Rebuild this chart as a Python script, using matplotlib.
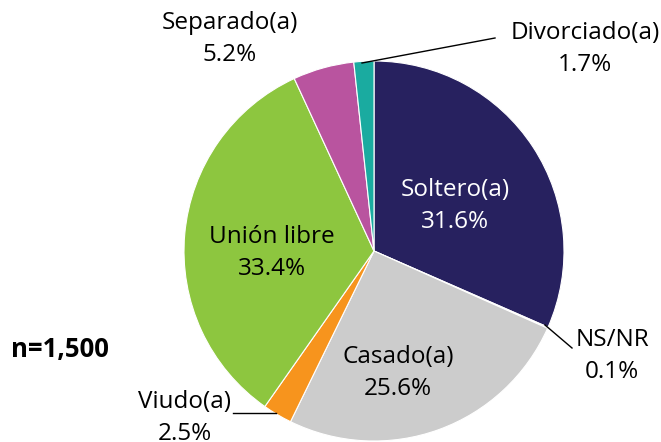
import matplotlib.pyplot as plt

labels = ['Soltero(a)', 'NS/NR', 'Casado(a)', 'Viudo(a)', 'Unión libre', 'Separado(a)', 'Divorciado(a)']
values = [31.6, 0.1, 25.6, 2.5, 33.4, 5.2, 1.7]
colors = ['#27215f', '#7f7f7f', '#cccccc', '#f7941d', '#8dc63f', '#b9549f', '#1aaba0']

plt.rcParams['font.family'] = ['Open Sans', 'DejaVu Sans']

fig = plt.figure(figsize=(6.61, 4.42), dpi=100)
ax = fig.add_axes([0, 0, 1, 1])

H = 442
cx, cy, r = 374, 251, 190
ax.pie(values, colors=colors, startangle=90, counterclock=False,
       center=(cx, H - cy), radius=r, frame=True,
       wedgeprops=dict(edgecolor='white', linewidth=0.8))
ax.set_xlim(0, 661)
ax.set_ylim(0, 442)
ax.set_aspect('equal')
ax.axis('off')

# label positions in pixel coords (x, y of first line)
pos = {
    'Soltero(a)': (455, 190, 'white'),
    'NS/NR': (612, 340, 'black'),
    'Casado(a)': (398, 357, 'black'),
    'Viudo(a)': (185, 402, 'black'),
    'Unión libre': (272, 237, 'black'),
    'Separado(a)': (230, 23, 'black'),
    'Divorciado(a)': (585, 33, 'black'),
}
for lab, val in zip(labels, values):
    x, y, c = pos[lab]
    ax.text(x, H - y, lab, ha='center', va='center', fontsize=17.5, color=c)
    ax.text(x, H - y - 32, f'{val}%', ha='center', va='center', fontsize=17.5, color=c)

# leader lines
ax.plot([362, 495], [H - 63, H - 38], color='black', lw=1)
ax.plot([545, 572], [H - 325, H - 348], color='black', lw=1)
ax.plot([233, 276], [H - 413, H - 413], color='black', lw=1)

ax.text(60, H - 350, 'n=1,500', ha='center', va='center', fontsize=18.5, fontweight='bold')

fig.savefig('out.png', dpi=100)
